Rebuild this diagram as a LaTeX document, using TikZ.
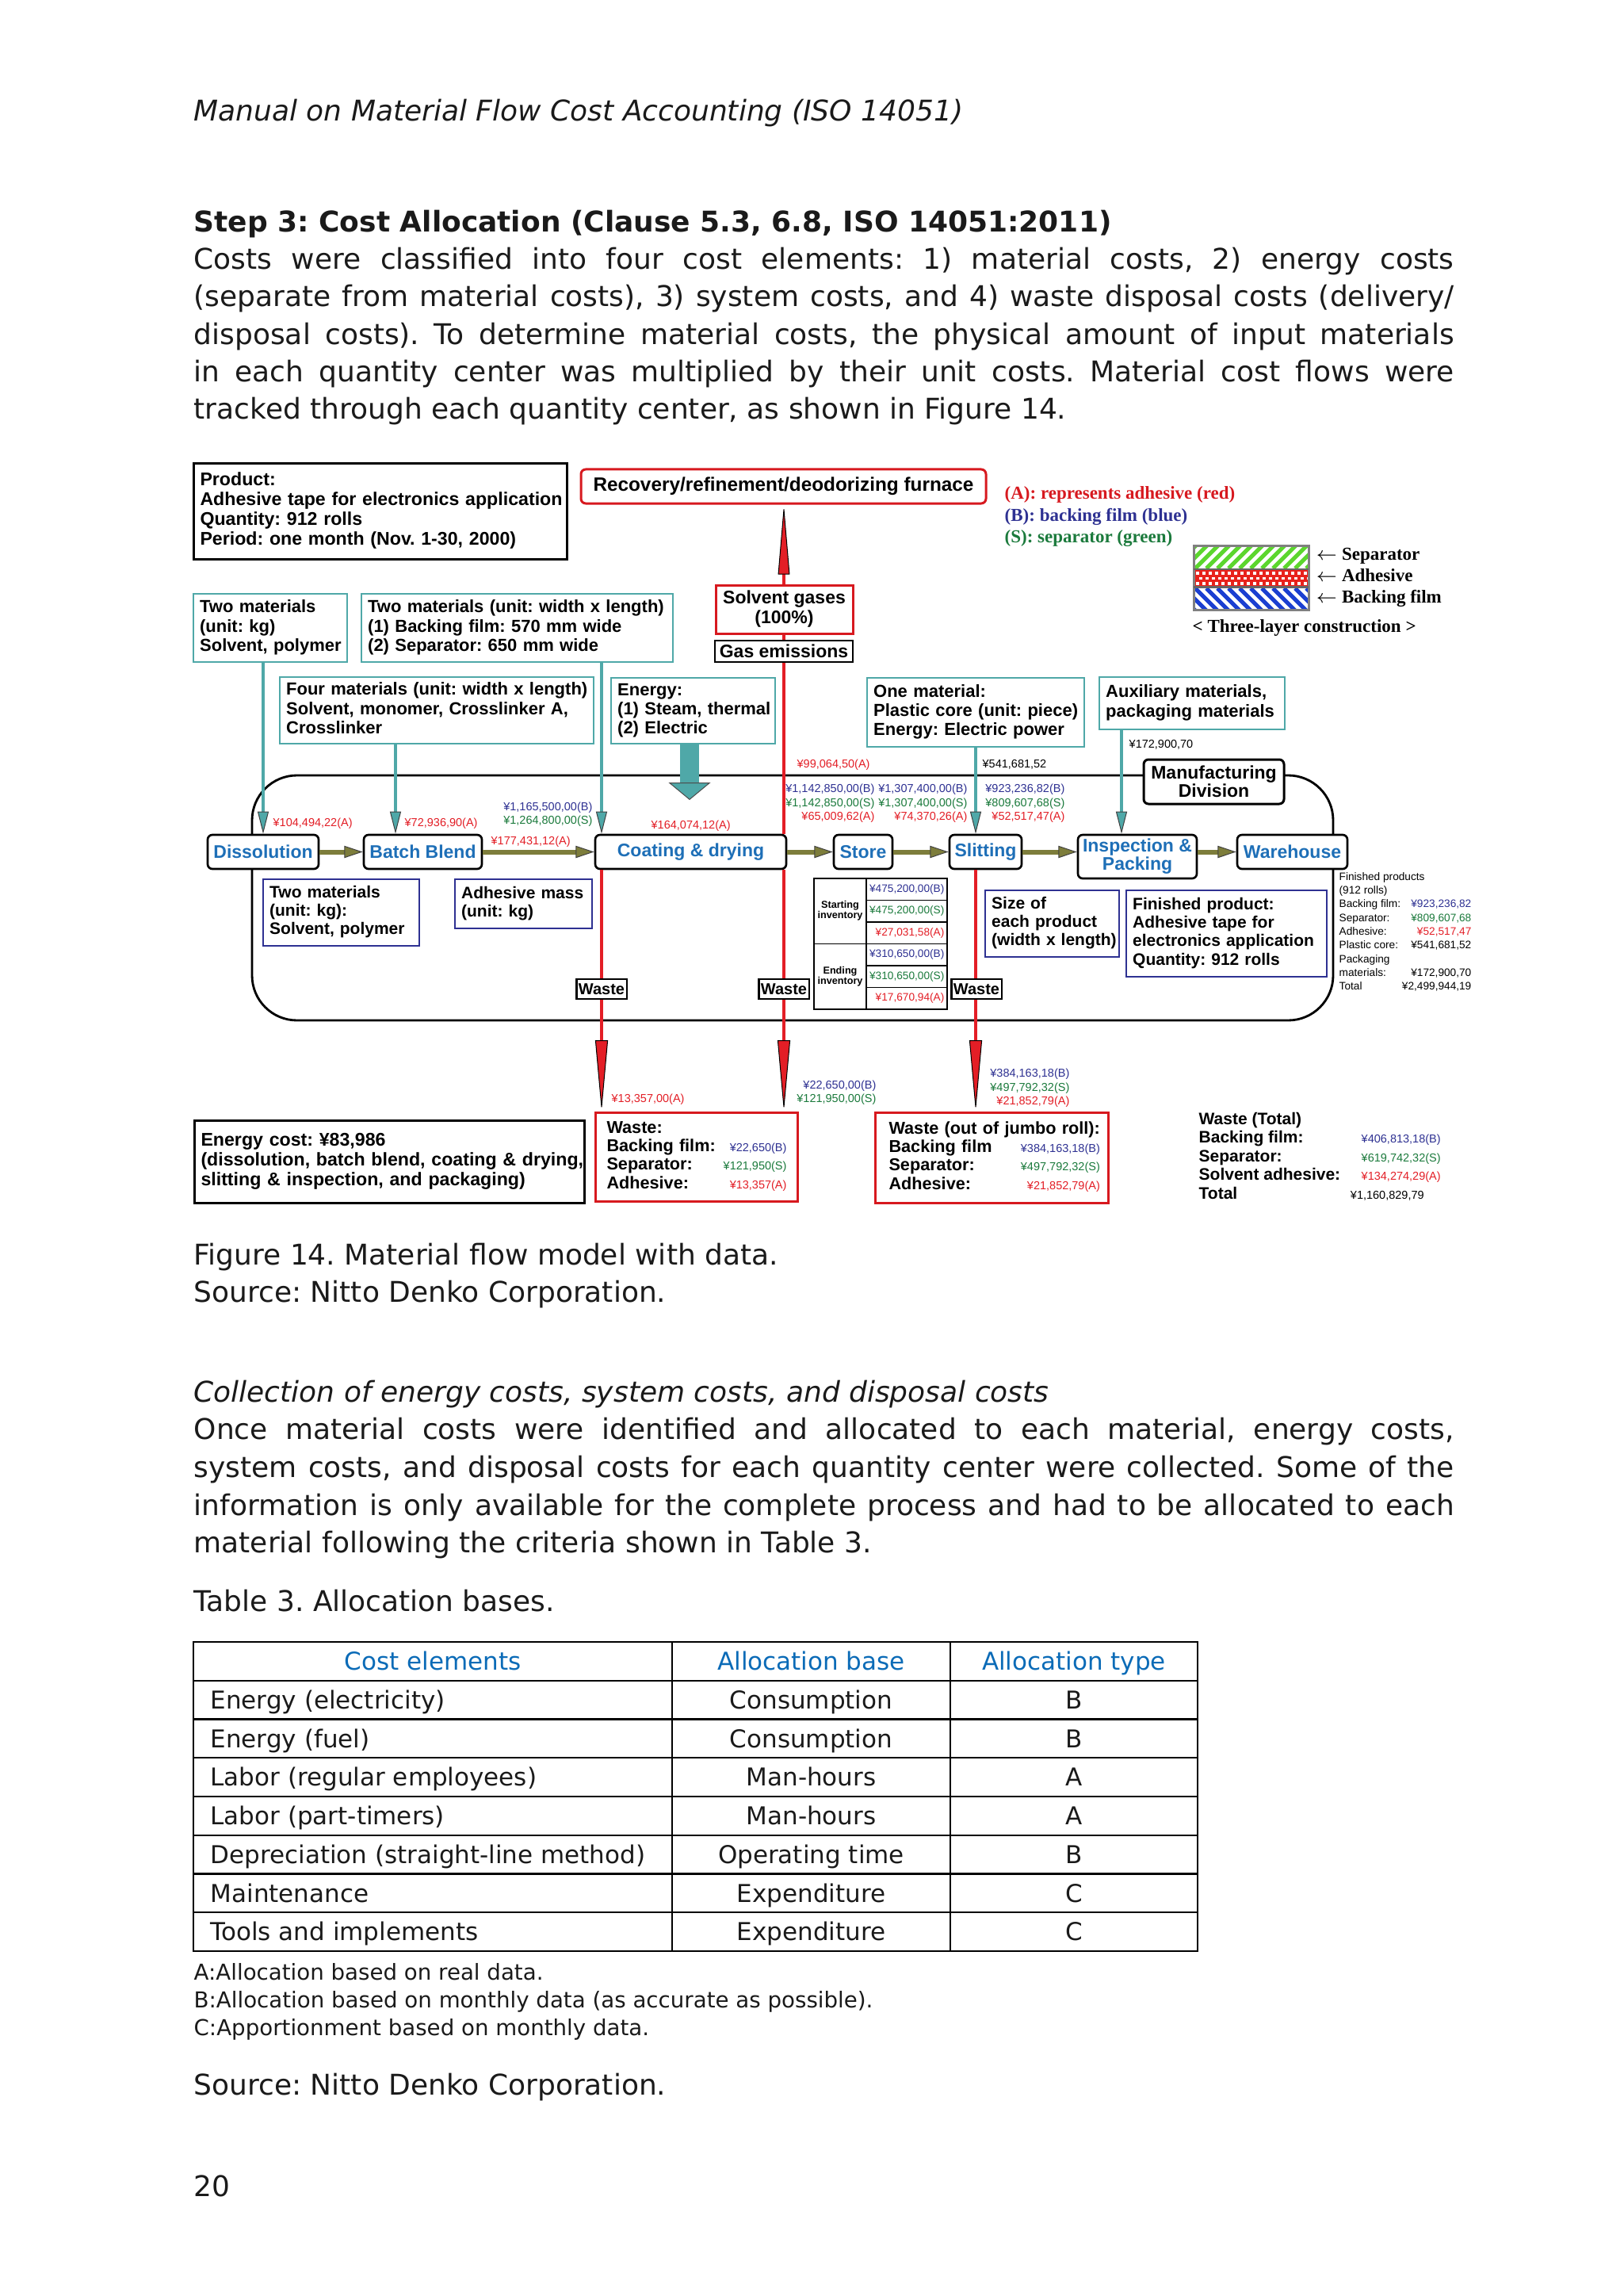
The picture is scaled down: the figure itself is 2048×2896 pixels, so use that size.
\documentclass[tikz,border=0pt]{standalone}
\usepackage{fontspec}
\setmainfont{DejaVu Sans}
\newfontfamily\arialfont{Liberation Sans}
\newfontfamily\timesfont{Liberation Serif}
\usetikzlibrary{arrows.meta}
\frenchspacing
\definecolor{tealc}{HTML}{4FA8A8}
\definecolor{navyc}{HTML}{2E3192}
\definecolor{redc}{HTML}{E31E26}
\definecolor{boxred}{HTML}{D7191F}
\definecolor{greenc}{HTML}{1B7A3C}
\definecolor{olivec}{HTML}{7D7D3B}
\definecolor{procblue}{HTML}{1E6FB7}
\definecolor{headblue}{HTML}{0B6BB7}
\definecolor{inkc}{HTML}{1A1A1A}
\definecolor{stripegreen}{HTML}{5CD62E}
\definecolor{stripeblue}{HTML}{1B3FD1}
\definecolor{checkred}{HTML}{E8221C}
\newcommand\bodyfont{\fontsize{10.8}{14.3}\selectfont}
\newcommand\tabfont{\fontsize{9.3}{11}\selectfont}
\newcommand\notefont{\fontsize{8.3}{10.5}\selectfont}
\newcommand\boxfont{\arialfont\bfseries\fontsize{6.6}{7.25}\selectfont}
\newcommand\bigboxfont{\arialfont\bfseries\fontsize{6.95}{7.5}\selectfont}
\newcommand\lowfont{\arialfont\bfseries\fontsize{6.3}{6.95}\selectfont}
\newcommand\wastefont{\arialfont\bfseries\fontsize{6.5}{7}\selectfont}
\newcommand\totalfont{\arialfont\bfseries\fontsize{6.3}{7.05}\selectfont}
\newcommand\procfont{\arialfont\bfseries\fontsize{6.9}{6.9}\selectfont}
\newcommand\tagfont{\arialfont\bfseries\fontsize{6}{6}\selectfont}
\newcommand\invfont{\arialfont\bfseries\fontsize{3.8}{4}\selectfont}
\newcommand\costfont{\arialfont\mdseries\fontsize{4.35}{5.2}\selectfont}
\newcommand\invvalfont{\arialfont\mdseries\fontsize{4.1}{5}\selectfont}
\newcommand\listfont{\arialfont\mdseries\fontsize{4.1}{5.2}\selectfont}
\newcommand\legfont{\timesfont\bfseries\fontsize{6.9}{8}\selectfont}
\newcommand\costval[2]{{\costfont\color{#1}#2}}
\newcommand\boxlines[1]{\noindent\begin{tabular}{@{}l@{}}#1\end{tabular}}
\newcommand\jline[1]{\makebox[477pt][s]{#1}}
\tikzset{
  mf text/.style={inner sep=0pt, anchor=base west, font=\bodyfont, text=inkc},
  mf box/.style={draw=tealc, line width=0.7pt, fill=white, inner xsep=2.4pt, inner ysep=0pt, anchor=north west, font=\boxfont},
  mf low/.style={mf box, draw=navyc, font=\lowfont},
  mf proc/.style={draw, line width=0.8pt, rounded corners=1.8pt, fill=white, text=procblue, font=\procfont, inner sep=0pt, align=center, minimum height=12.9pt},
  mf tag/.style={draw, line width=0.7pt, fill=white, font=\tagfont, inner sep=0pt, minimum width=19pt, minimum height=7.5pt},
  mf feed/.style={tealc, line width=1.3pt, -{Triangle[length=8.4pt,width=4.2pt,fill=tealc,color=black!75,line width=0.3pt]}},
  mf flow/.style={olivec, line width=1.8pt, -{Triangle[length=7pt,width=4.6pt,fill=olivec,color=black!75,line width=0.3pt]}},
  mf drain/.style={redc, line width=1.4pt, -{Triangle[length=27pt,width=4.8pt,fill=redc,color=black,line width=0.3pt]}},
  mf cost/.style={inner sep=0pt, font=\costfont},
  mf key/.style={inner sep=0pt, anchor=base west, font=\legfont},
  mf rule/.style={line width=0.7pt},
  mf tab/.style={inner sep=0pt, font=\tabfont, text=inkc}
}
\begin{document}
\begin{tikzpicture}[x=0.3pt, y=-0.3pt]
  \useasboundingbox (0,0) rectangle (2048,2896);
  \fill[white] (0,0) rectangle (2048,2896);
  \node[mf text, font=\bodyfont\itshape] (runhead) at (244,153) {Manual on Material Flow Cost Accounting (ISO 14051)};
  \node[mf text, font=\bodyfont\bfseries] (stephead) at (244,293) {Step 3: Cost Allocation (Clause 5.3, 6.8, ISO 14051:2011)};
  \node[mf text] (para1a) at (244,340) {\jline{Costs were classified into four cost elements: 1) material costs, 2) energy costs}};
  \node[mf text] (para1b) at (244,387) {\jline{(separate from material costs), 3) system costs, and 4) waste disposal costs (delivery/}};
  \node[mf text] (para1c) at (244,435) {\jline{disposal costs). To determine material costs, the physical amount of input materials}};
  \node[mf text] (para1d) at (244,482) {\jline{in each quantity center was multiplied by their unit costs. Material cost flows were}};
  \node[mf text] (para1e) at (244,529) {tracked through each quantity center, as shown in Figure 14.};
  \node[mf text] (figcap) at (244,1595) {Figure 14. Material flow model with data.};
  \node[mf text] (figsrc) at (244,1642) {Source: Nitto Denko Corporation.};
  \node[mf text, font=\bodyfont\itshape] (subhead) at (244,1768) {Collection of energy costs, system costs, and disposal costs};
  \node[mf text] (para2a) at (244,1815) {\jline{Once material costs were identified and allocated to each material, energy costs,}};
  \node[mf text] (para2b) at (244,1863) {\jline{system costs, and disposal costs for each quantity center were collected. Some of the}};
  \node[mf text] (para2c) at (244,1911) {\jline{information is only available for the complete process and had to be allocated to each}};
  \node[mf text] (para2d) at (244,1958) {material following the criteria shown in Table 3.};
  \node[mf text] (tabcap) at (244,2032) {Table 3. Allocation bases.};
  \node[mf text, font=\notefont] (noteA) at (244,2497) {A:Allocation based on real data.};
  \node[mf text, font=\notefont] (noteB) at (244,2532) {B:Allocation based on monthly data (as accurate as possible).};
  \node[mf text, font=\notefont] (noteC) at (244,2567) {C:Apportionment based on monthly data.};
  \node[mf text] (tabsrc) at (244,2642) {Source: Nitto Denko Corporation.};
  \node[mf text] (pagenum) at (244,2770) {20};

  \draw[line width=0.85pt, rounded corners=17pt] (318,978) rectangle (1682,1287);

  \node[mf box, draw=black, line width=0.9pt, text width=136.5pt, minimum height=36.3pt, font=\bigboxfont] (product) at (243,583) {\boxlines{Product:\\Adhesive tape for electronics application\\Quantity: 912 rolls\\Period: one month (Nov. 1-30, 2000)}};
  \node[draw=boxred, line width=0.9pt, rounded corners=1.8pt, fill=white, inner sep=0pt, minimum width=153.3pt, minimum height=12.9pt, font=\arialfont\bfseries\fontsize{7.3}{7.3}\selectfont] (recovery) at (988.5,613.5) {Recovery/refinement/deodorizing furnace};
  \node[mf box, text width=53.4pt, minimum height=25.8pt] (in1) at (243,748) {\boxlines{Two materials\\(unit: kg)\\Solvent, polymer}};
  \node[mf box, text width=113.1pt, minimum height=25.8pt] (in2) at (455,748) {\boxlines{Two materials (unit: width x length)\\(1) Backing film: 570 mm wide\\(2) Separator: 650 mm wide}};
  \node[mf box, text width=114pt, minimum height=25.2pt] (in3) at (352,853) {\boxlines{Four materials (unit: width x length)\\Solvent, monomer, Crosslinker A,\\Crosslinker}};
  \node[mf box, text width=57.3pt, minimum height=24.9pt] (in4) at (770,854) {\boxlines{Energy:\\(1) Steam, thermal\\(2) Electric}};
  \node[mf box, text width=77.4pt, minimum height=26.1pt] (in5) at (1093,854) {\boxlines{One material:\\Plastic core (unit: piece)\\Energy: Electric power}};
  \node[mf box, text width=65.4pt, minimum height=19.8pt] (in6) at (1386,853) {\boxlines{Auxiliary materials,\\packaging materials}};
  \node[mf low, text width=54.3pt, minimum height=25.2pt] (lo1) at (331,1108) {\boxlines{Two materials\\(unit: kg):\\Solvent, polymer}};
  \node[mf low, text width=47.1pt, minimum height=18.6pt] (lo2) at (573,1108) {\boxlines{Adhesive mass\\(unit: kg)}};
  \node[mf low, text width=45.9pt, minimum height=25.2pt] (lo3) at (1242,1122) {\boxlines{Size of\\each product\\(width x length)}};
  \node[mf low, text width=71.1pt, minimum height=32.7pt] (lo4) at (1420,1122) {\boxlines{Finished product:\\Adhesive tape for\\electronics application\\Quantity: 912 rolls}};
  \node[mf box, draw=black, line width=0.9pt, text width=142.8pt, minimum height=31.2pt, font=\bigboxfont] (energycost) at (244,1412) {\boxlines{Energy cost: ¥83,986\\(dissolution, batch blend, coating \& drying,\\slitting \& inspection, and packaging)}};
  \node[mf box, draw=boxred, line width=0.9pt, inner xsep=4.2pt, text width=68.1pt, minimum height=33.6pt, font=\wastefont] (waste1) at (750,1402) {\noindent\begin{tabular*}{68.1pt}{@{}l@{\extracolsep{\fill}}r@{}}
      \multicolumn{2}{@{}l@{}}{Waste:}\\
      Backing film: & \costval{navyc}{¥22,650(B)}\\
      Separator: & \costval{greenc}{¥121,950(S)}\\
      Adhesive: & \costval{redc}{¥13,357(A)}
    \end{tabular*}};
  \node[mf box, draw=boxred, line width=0.9pt, inner xsep=5.1pt, text width=78pt, minimum height=34.2pt, font=\wastefont] (waste2) at (1103,1402) {\noindent\begin{tabular*}{78pt}{@{}l@{\extracolsep{\fill}}r@{}}
      \multicolumn{2}{@{}l@{}}{Waste (out of jumbo roll):}\\
      Backing film & \costval{navyc}{¥384,163,18(B)}\\
      Separator: & \costval{greenc}{¥497,792,32(S)}\\
      Adhesive: & \costval{redc}{¥21,852,79(A)}
    \end{tabular*}};

  \node[mf proc, minimum width=42pt] (dissolution) at (332,1074.5) {Dissolution};
  \node[mf proc, minimum width=44.7pt] (batch) at (533.5,1074.5) {Batch Blend};
  \node[mf proc, minimum width=72.3pt] (coating) at (871.5,1074.5) {Coating \& drying};
  \node[mf proc, minimum width=22.2pt] (store) at (1089,1074.5) {Store};
  \node[mf proc, minimum width=27.3pt] (slitting) at (1243.5,1074.5) {Slitting};
  \node[mf proc, minimum width=45pt, minimum height=16.5pt] (inspection) at (1435,1080.5) {Inspection \&\\Packing};
  \node[mf proc, minimum width=41.7pt] (warehouse) at (1630.5,1074.5) {Warehouse};
  \node[mf proc, text=black, line width=0.9pt, minimum width=53.1pt, minimum height=16.8pt] (manuf) at (1531.5,986) {Manufacturing\\Division};
  \coordinate (heatin) at (870,1009);

  \draw[mf feed] (in1.south -| dissolution.north) -- (dissolution.north);
  \draw[mf feed] (in3.south -| 499,0) -- (batch.north -| 499,0);
  \draw[mf feed] (in2.south -| 759,0) -- (coating.north -| 759,0);
  \draw[mf feed] (in5.south -| 1231,0) -- (slitting.north -| 1231,0);
  \draw[mf feed] (in6.south -| 1415,0) -- (inspection.north -| 1415,0);
  \draw[tealc, line width=7.2pt, -{Triangle[length=6.6pt,width=15.9pt,fill=tealc,color=black!70,line width=0.3pt]}] (in4.south -| heatin) -- (heatin);
  \foreach \a/\b in {dissolution/batch, batch/coating, coating/store, store/slitting}
    \draw[mf flow] (\a.east) -- (\b.west);
  \draw[mf flow] (slitting.east) -- (slitting.east -| inspection.west);
  \draw[mf flow] (warehouse.west -| inspection.east) -- (warehouse.west);
  \draw[mf drain] (coating.south -| 759,0) -- (waste1.north -| 759,0);
  \draw[mf drain] (coating.south -| 989,0) -- (waste1.north -| 989,0);
  \draw[mf drain] (slitting.south -| 1231,0) -- (waste2.north -| 1231,0);
  \draw[redc, line width=1.4pt, -{Triangle[length=26.4pt,width=4.4pt,fill=redc,color=black,line width=0.3pt]}] (coating.north -| 989,0) -- (recovery.south -| 989,0);

  \node[mf tag] (tag1) at (759,1247.5) {Waste};
  \node[mf tag] (tag2) at (989,1247.5) {Waste};
  \node[mf tag] (tag3) at (1232,1247.5) {Waste};
  \node[draw=boxred, line width=0.9pt, fill=white, inner sep=0pt, align=center, minimum width=51.9pt, minimum height=18.3pt, font=\arialfont\bfseries\fontsize{6.9}{7.5}\selectfont] (solvent) at (989.5,768.5) {Solvent gases\\(100\%)};
  \node[draw, line width=0.7pt, fill=white, inner sep=0pt, minimum width=52.2pt, minimum height=8.1pt, font=\arialfont\bfseries\fontsize{6.9}{6.9}\selectfont] (gasout) at (989,821.5) {Gas emissions};

  \foreach \x/\y/\col/\val [count=\i] in {344/1042/redc/{¥104,494,22(A)}, 510/1042/redc/{¥72,936,90(A)},
      619/1065/redc/{¥177,431,12(A)}, 821/1045/redc/{¥164,074,12(A)}, 1005/968/redc/{¥99,064,50(A)},
      1239/968/black/{¥541,681,52}, 1424/943/black/{¥172,900,70}, 771/1390/redc/{¥13,357,00(A)}}
    \node[mf cost, text=\col, anchor=base west] (cw\i) at (\x,\y) {\val};
  \foreach \x/\y/\col/\val [count=\i] in {748/1022/navyc/{¥1,165,500,00(B)}, 748/1039/greenc/{¥1,264,800,00(S)},
      1104/999/navyc/{¥1,142,850,00(B)}, 1104/1017/greenc/{¥1,142,850,00(S)}, 1104/1034/redc/{¥65,009,62(A)},
      1221/999/navyc/{¥1,307,400,00(B)}, 1221/1017/greenc/{¥1,307,400,00(S)}, 1221/1034/redc/{¥74,370,26(A)},
      1344/999/navyc/{¥923,236,82(B)}, 1344/1017/greenc/{¥809,607,68(S)}, 1344/1034/redc/{¥52,517,47(A)},
      1106/1373/navyc/{¥22,650,00(B)}, 1106/1390/greenc/{¥121,950,00(S)},
      1350/1358/navyc/{¥384,163,18(B)}, 1350/1376/greenc/{¥497,792,32(S)}, 1350/1393/redc/{¥21,852,79(A)}}
    \node[mf cost, text=\col, anchor=base east] (ce\i) at (\x,\y) {\val};

  \draw[line width=0.45pt] (1027,1108) rectangle (1195,1273);
  \draw[line width=0.45pt] (1093,1108) -- (1093,1273) (1027,1190.5) -- (1195,1190.5);
  \foreach \y in {1135.5,1163,1218,1245.5}
    \draw[line width=0.45pt] (1093,\y) -- (1195,\y);
  \node[inner sep=0pt, align=center, font=\invfont] (startinv) at (1060,1149) {Starting\\inventory};
  \node[inner sep=0pt, align=center, font=\invfont] (endinv) at (1060,1231.5) {Ending\\inventory};
  \foreach \y/\col/\val [count=\i] in {1121.75/navyc/{¥475,200,00(B)}, 1149.25/greenc/{¥475,200,00(S)}, 1176.75/redc/{¥27,031,58(A)},
      1204.25/navyc/{¥310,650,00(B)}, 1231.75/greenc/{¥310,650,00(S)}, 1259.25/redc/{¥17,670,94(A)}}
    \node[mf cost, font=\invvalfont, text=\col, anchor=east] (inv\i) at (1192,\y) {\val};

  \node[inner sep=0pt, anchor=base west, font=\listfont] (fplist) at (1689,1110) {\begin{tabular*}{50pt}[t]{@{}l@{\extracolsep{\fill}}r@{}}
      \multicolumn{2}{@{}l@{}}{Finished products}\\
      \multicolumn{2}{@{}l@{}}{(912 rolls)}\\
      Backing film: & \textcolor{navyc}{¥923,236,82}\\
      Separator: & \textcolor{greenc}{¥809,607,68}\\
      Adhesive: & \textcolor{redc}{¥52,517,47}\\
      Plastic core: & ¥541,681,52\\
      \multicolumn{2}{@{}l@{}}{Packaging}\\
      materials: & ¥172,900,70\\
      Total & ¥2,499,944,19
    \end{tabular*}};
  \node[inner sep=0pt, anchor=base west, font=\totalfont] (wastetotal) at (1512,1418) {\begin{tabular*}{91.5pt}[t]{@{}l@{\extracolsep{\fill}}r@{}}
      \multicolumn{2}{@{}l@{}}{Waste (Total)}\\
      Backing film: & \costval{navyc}{¥406,813,18(B)}\\
      Separator: & \costval{greenc}{¥619,742,32(S)}\\
      Solvent adhesive: & \costval{redc}{¥134,274,29(A)}\\
      Total & \costval{black}{¥1,160,829,79}\hspace*{6.3pt}
    \end{tabular*}};

  \node[mf key, text=boxred] (keyA) at (1267,630) {(A): represents adhesive (red)};
  \node[mf key, text=navyc] (keyB) at (1267,657) {(B): backing film (blue)};
  \node[mf key, text=greenc] (keyS) at (1267,684) {(S): separator (green)};
  \begin{scope}
    \clip (1507,690) rectangle (1650,717);
    \foreach \s in {0,...,12}
      \draw[stripegreen, line width=1.5pt] ({1480+14*\s},717) -- ++(30,-30);
  \end{scope}
  \fill[checkred] (1507,719) rectangle (1650,739);
  \foreach \i in {0,...,17}
    \foreach \j in {0,1,2}
      \fill[white] ({1509+8*\i+4*mod(\j,2)},{721+6.5*\j}) rectangle ++(3.5,3.5);
  \begin{scope}
    \clip (1507,742) rectangle (1650,767);
    \foreach \s in {0,...,12}
      \draw[stripeblue, line width=1.5pt] ({1480+14*\s},742) -- ++(30,30);
  \end{scope}
  \draw[gray, line width=0.9pt] (1506,688) rectangle (1651,769);
  \draw[black!60, line width=0.8pt] (1506,718) -- (1651,718) (1506,740.5) -- (1651,740.5);
  \node[mf key] (laysep) at (1660,706) {$\leftarrow$ Separator};
  \node[mf key] (layadh) at (1660,733) {$\leftarrow$ Adhesive};
  \node[mf key] (laybak) at (1660,760) {$\leftarrow$ Backing film};
  \node[mf key] (laycap) at (1504,797) {< Three-layer construction >};

  \draw[mf rule] (244,2071) rectangle (1511,2461);
  \foreach \k in {1,...,7}
    \draw[mf rule] (244,{2071+48.75*\k}) -- (1511,{2071+48.75*\k});
  \draw[mf rule] (848,2071) -- (848,2461) (1199,2071) -- (1199,2461);
  \node[mf tab, text=headblue, anchor=base] (hd1) at (546,2106.5) {Cost elements};
  \node[mf tab, text=headblue, anchor=base] (hd2) at (1023.5,2106.5) {Allocation base};
  \node[mf tab, text=headblue, anchor=base] (hd3) at (1355,2106.5) {Allocation type};
  \foreach \cel/\base/\kind [count=\row] in {Energy (electricity)/Consumption/B, Energy (fuel)/Consumption/B,
      Labor (regular employees)/Man-hours/A, Labor (part-timers)/Man-hours/A,
      Depreciation (straight-line method)/Operating time/B, Maintenance/Expenditure/C, Tools and implements/Expenditure/C}{
    \node[mf tab, anchor=base west] (cel\row) at (265,{2106.5+48.75*\row}) {\cel};
    \node[mf tab, anchor=base] (base\row) at (1023.5,{2106.5+48.75*\row}) {\base};
    \node[mf tab, anchor=base] (kind\row) at (1355,{2106.5+48.75*\row}) {\kind};
  }
\end{tikzpicture}
\end{document}
